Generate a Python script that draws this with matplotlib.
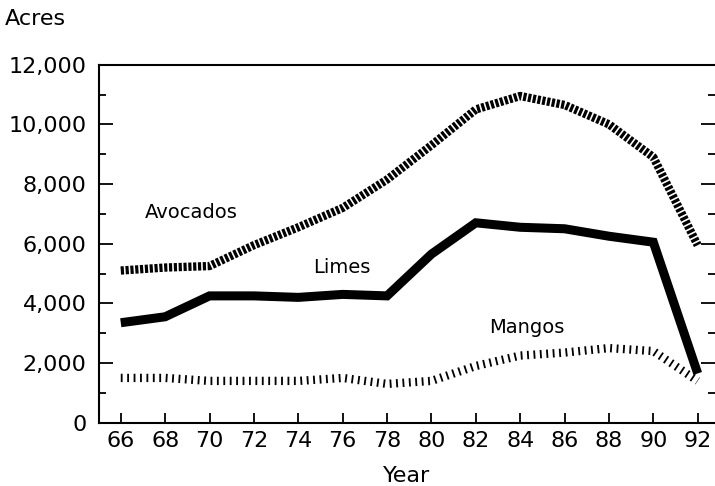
import matplotlib
matplotlib.use("Agg")
import matplotlib.pyplot as plt
from matplotlib.ticker import MultipleLocator, FuncFormatter

# Acres planted by year
years = [66, 68, 70, 72, 74, 76, 78, 80, 82, 84, 86, 88, 90, 92]
avocados = [5100, 5200, 5250, 5950, 6550, 7200, 8150, 9300, 10500, 10950, 10650, 10000, 8900, 5950]
limes = [3350, 3550, 4250, 4250, 4200, 4300, 4250, 5650, 6700, 6550, 6500, 6250, 6050, 1650]
mangos = [1500, 1500, 1400, 1400, 1400, 1500, 1300, 1400, 1900, 2250, 2350, 2500, 2400, 1400]

plt.rcParams['font.family'] = ['DejaVu Sans']

fig = plt.figure(figsize=(7.15, 4.86), dpi=100)
ax = fig.add_axes([0.1385, 0.1303, 0.8615, 0.7366])

# hatched thick line for avocados
ax.plot(years, avocados, color='black', lw=6, dashes=(0.38, 0.2),
        solid_capstyle='butt', dash_capstyle='butt')
# solid line for limes
ax.plot(years, limes, color='black', lw=6.5, solid_capstyle='butt',
        solid_joinstyle='miter')
# sparse bars for mangos
ax.plot(years, mangos, color='black', lw=6, dashes=(0.22, 0.55),
        dash_capstyle='butt')

ax.text(67.1, 7050, 'Avocados', fontsize=14, va='center', ha='left')
ax.text(74.65, 5200, 'Limes', fontsize=14, va='center', ha='left')
ax.text(82.6, 3200, 'Mangos', fontsize=14, va='center', ha='left')

ax.set_xlim(65.02, 92.78)
ax.set_ylim(0, 12000)
ax.set_xticks(years)
ax.yaxis.set_major_locator(MultipleLocator(2000))
ax.yaxis.set_minor_locator(MultipleLocator(1000))
ax.yaxis.set_major_formatter(FuncFormatter(lambda v, p: f"{int(v):,}"))

ax.spines['right'].set_visible(False)
for s in ['left', 'bottom', 'top']:
    ax.spines[s].set_linewidth(1.5)

ax.tick_params(axis='y', which='major', direction='in', length=10, width=1.3,
               labelsize=16, pad=9, right=True)
ax.tick_params(axis='y', which='minor', direction='in', length=5, width=1.3,
               right=True)
ax.tick_params(axis='x', which='major', direction='in', length=7, width=1.3,
               labelsize=16, pad=6)

ax.set_xlabel('Year', fontsize=16, labelpad=11)
fig.text(0.007, 0.961, 'Acres', fontsize=16, ha='left', va='center')

fig.savefig('out.png', dpi=100)
